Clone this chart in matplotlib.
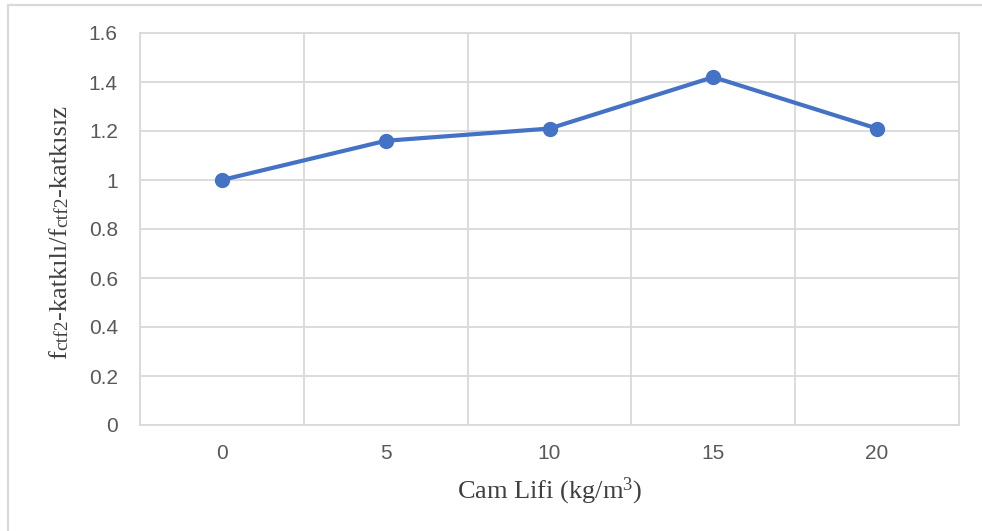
import matplotlib
matplotlib.use("Agg")
import matplotlib.pyplot as plt
from matplotlib.patches import Rectangle

# Data
fiber_content = ["0", "5", "10", "15", "20"]
strength_ratio = [1.00, 1.16, 1.21, 1.42, 1.21]
y_ticks = [0, 0.2, 0.4, 0.6, 0.8, 1.0, 1.2, 1.4, 1.6]
y_tick_labels = ["0", "0.2", "0.4", "0.6", "0.8", "1", "1.2", "1.4", "1.6"]

plt.rcParams["mathtext.fontset"] = "custom"
plt.rcParams["mathtext.rm"] = "Liberation Serif"
plt.rcParams["mathtext.it"] = "Liberation Serif:italic"

W, H = 982, 531
fig = plt.figure(figsize=(W / 100, H / 100), dpi=100)

# Chart border
fig.patches.append(Rectangle((8 / W, -0.1), 1.2, 1 - 5 / H + 0.1,
                             transform=fig.transFigure, fill=False,
                             edgecolor="#D9D9D9", linewidth=1.6))

ax = fig.add_axes([140 / W, 1 - 425 / H, (959 - 140) / W, (425 - 33) / H])

grid_color = "#D9D9D9"
text_color = "#404040"
x = list(range(len(fiber_content)))
ax.plot(x, strength_ratio, color="#4472C4", linewidth=3.0,
        marker="o", markersize=10, zorder=3, solid_capstyle="round")

ax.set_xlim(-0.5, len(fiber_content) - 0.5)
ax.set_ylim(0, 1.6)
ax.set_xticks(x)
ax.set_xticklabels(fiber_content)
ax.set_xticks([i - 0.5 for i in range(len(fiber_content) + 1)], minor=True)
ax.set_yticks(y_ticks)
ax.set_yticklabels(y_tick_labels)

ax.grid(True, axis="y", which="major", color=grid_color, linewidth=1.3)
ax.grid(True, axis="x", which="minor", color=grid_color, linewidth=1.3)
ax.grid(False, axis="x", which="major")
ax.tick_params(axis="both", which="both", length=0)
ax.tick_params(axis="both", labelsize=15, labelcolor="#595959",
               labelfontfamily="Liberation Sans")
ax.tick_params(axis="y", pad=16)
ax.tick_params(axis="x", pad=14)
for s in ax.spines.values():
    s.set_color(grid_color)
    s.set_linewidth(1.3)

ax.set_xlabel(r"Cam Lifi (kg/m$^{3}$)", fontsize=19, family="Liberation Serif",
              color=text_color, labelpad=9)

# Y-axis title built from pieces: small "ctf2" indices sit just below the baseline
label_parts = [("f", 19, 0.0), ("ctf2", 14, 1.5), ("-katkılı/f", 19, 0.0),
               ("ctf2", 14, 1.5), ("-katkısız", 19, 0.0)]
fig.canvas.draw()
renderer = fig.canvas.get_renderer()
lengths = []
for txt, size, _ in label_parts:
    t = fig.text(0, 0, txt, fontsize=size, family="Liberation Serif")
    lengths.append(t.get_window_extent(renderer).width)
    t.remove()
total = sum(lengths)
baseline_x = 66.0          # px from left edge
center_y = H - 232.0       # px from bottom edge
pos = center_y - total / 2
for (txt, size, shift), length in zip(label_parts, lengths):
    fig.text((baseline_x + shift) / W, pos / H, txt, fontsize=size,
             family="Liberation Serif", color=text_color, rotation=90,
             rotation_mode="anchor", ha="left", va="baseline")
    pos += length

fig.savefig("out.png", dpi=100)
